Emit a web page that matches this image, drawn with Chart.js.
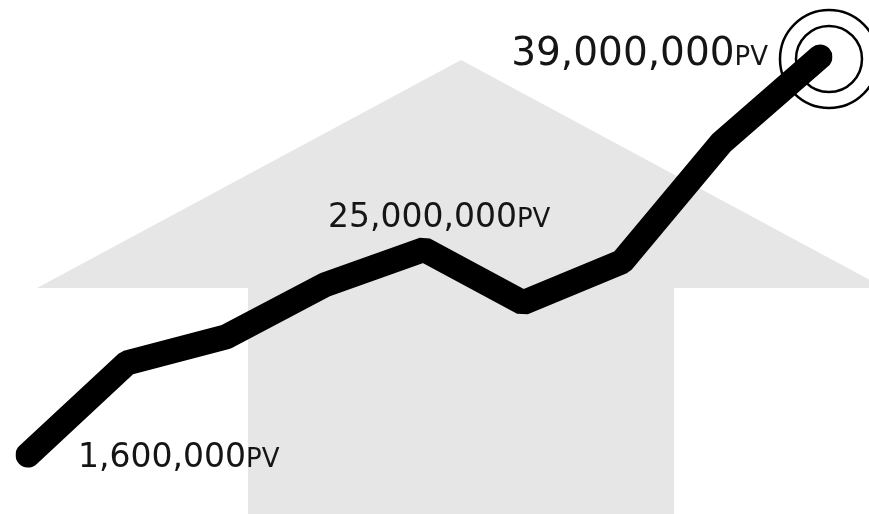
<!DOCTYPE html>
<html>
<head>
<meta charset="utf-8">
<script src="https://cdn.jsdelivr.net/npm/chart.js@4/dist/chart.umd.min.js"></script>
<style>
  html, body { margin: 0; padding: 0; background: #fff; }
  #wrap { width: 869px; height: 514px; position: relative; }
</style>
</head>
<body>
<div id="wrap"><canvas id="pvChart"></canvas></div>
<script>
// page views per period (millions)
const periods = ['1', '2', '3', '4', '5', '6', '7', '8', '9'];
const pvValues = [1.6, 10.25, 12.7, 17.6, 20.9, 15.9, 19.75, 30.9, 39.0];
// annotated points: index -> text
const labelIndex = [0, 4, 8];
const labelText = ['1,600,000', '25,000,000', '39,000,000'];

// grey arrow behind the line
const arrowBg = {
  id: 'arrowBg',
  beforeDatasetsDraw(chart) {
    const c = chart.ctx;
    c.save();
    c.fillStyle = '#e6e6e6';
    c.beginPath();
    c.moveTo(461, 60);
    c.lineTo(885, 288);
    c.lineTo(674, 288);
    c.lineTo(674, 520);
    c.lineTo(248, 520);
    c.lineTo(248, 288);
    c.lineTo(37, 288);
    c.closePath();
    c.fill();
    c.restore();
  }
};

// value labels + target rings
const pvLabels = {
  id: 'pvLabels',
  afterDatasetsDraw(chart) {
    const c = chart.ctx;
    const pts = chart.getDatasetMeta(0).data;
    const styles = [
      { dx: 50, dy: 12, big: 33, small: 26, align: 'left' },
      { dx: -96, dy: -23, big: 33, small: 26, align: 'left' },
      { dx: -52, dy: 8, big: 39, small: 26, align: 'right' }
    ];
    c.save();
    c.fillStyle = '#151515';
    c.textBaseline = 'alphabetic';
    labelIndex.forEach((idx, i) => {
      const p = pts[idx];
      const s = styles[i];
      c.font = s.big + 'px "DejaVu Sans"';
      const w1 = c.measureText(labelText[i]).width;
      c.font = s.small + 'px "DejaVu Sans"';
      const w2 = c.measureText('PV').width;
      let x = p.x + s.dx;
      if (s.align === 'right') x -= (w1 + w2);
      const y = p.y + s.dy;
      c.font = s.big + 'px "DejaVu Sans"';
      c.fillText(labelText[i], x, y);
      c.font = s.small + 'px "DejaVu Sans"';
      c.fillText('PV', x + w1, y);
    });
    const last = pts[pts.length - 1];
    c.strokeStyle = '#000';
    c.lineWidth = 2.5;
    [33, 49].forEach(r => {
      c.beginPath();
      c.arc(last.x + 9, last.y + 2, r, 0, Math.PI * 2);
      c.stroke();
    });
    c.restore();
  }
};

const ctx = document.getElementById('pvChart').getContext('2d');
const pvChart = new Chart(ctx, {
  type: 'line',
  data: {
    labels: periods,
    datasets: [{
      data: pvValues,
      borderColor: '#000',
      borderWidth: 25,
      borderCapStyle: 'round',
      borderJoinStyle: 'bevel',
      tension: 0,
      pointRadius: 0,
      fill: false
    }]
  },
  options: {
    responsive: true,
    maintainAspectRatio: false,
    animation: false,
    layout: { padding: { left: 28, right: 49, top: 25, bottom: 42 } },
    plugins: {
      legend: { display: false },
      tooltip: { enabled: false }
    },
    scales: {
      x: { display: false, offset: false },
      y: { display: false, min: 0, max: 42 }
    }
  },
  plugins: [arrowBg, pvLabels]
});
</script>
</body>
</html>
